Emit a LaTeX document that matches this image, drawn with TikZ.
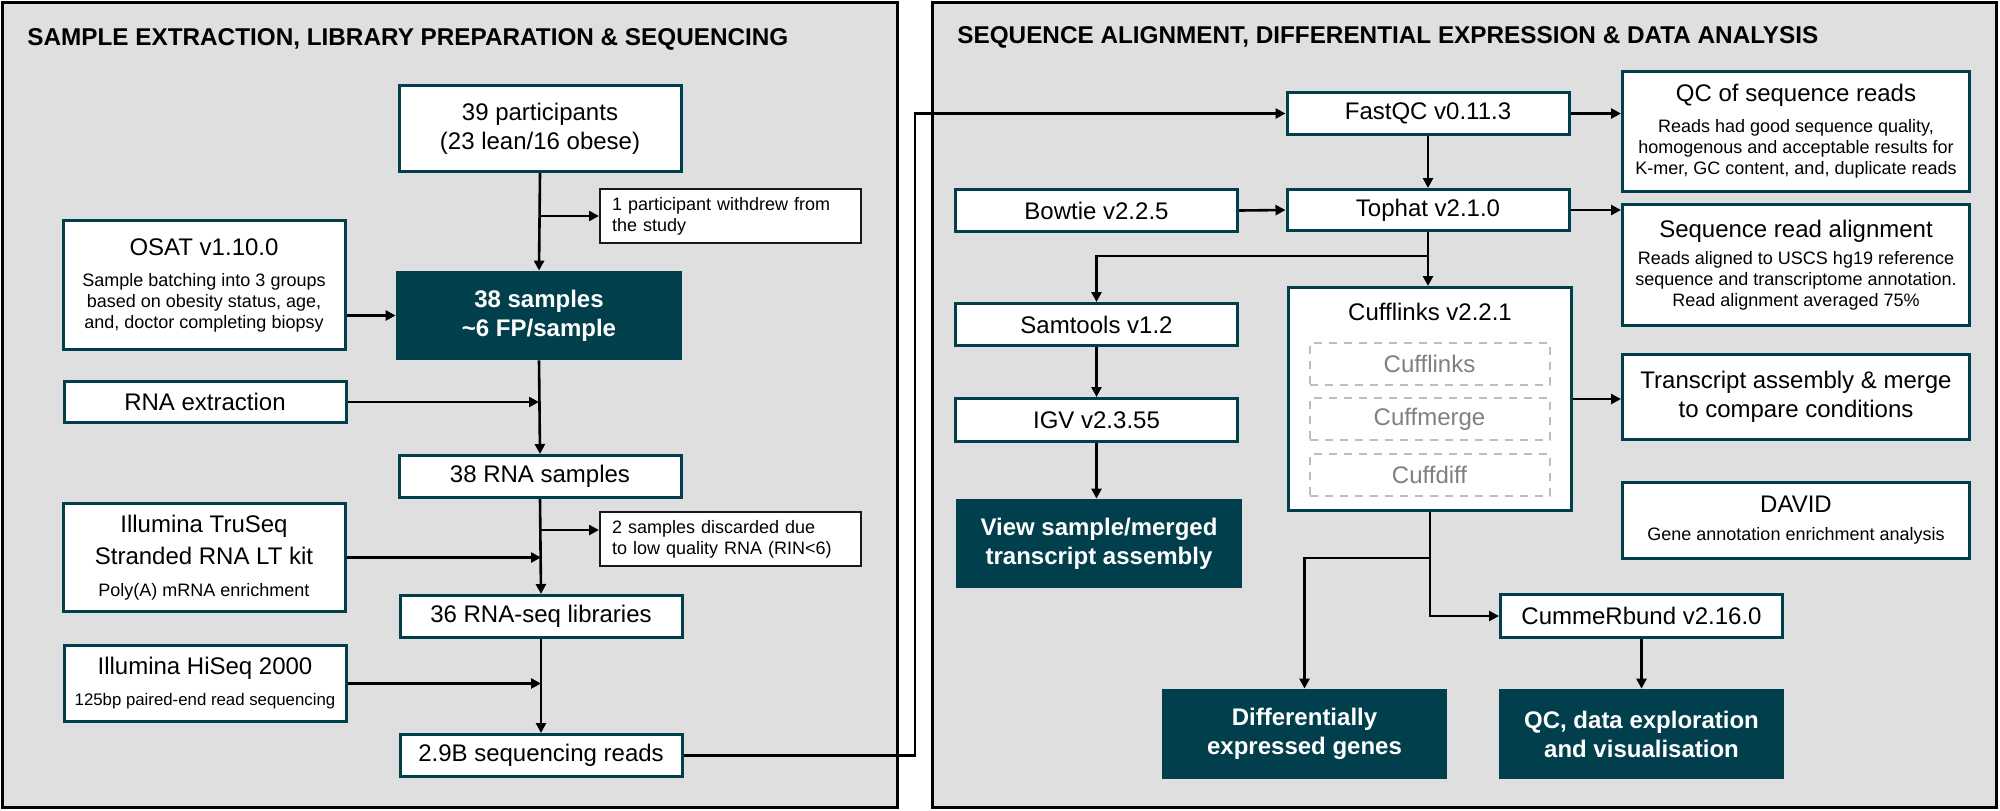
\documentclass[tikz,border=0pt]{standalone}
\usepackage{fontspec}
\setmainfont{Liberation Sans}
\usepackage{tikz}
\usetikzlibrary{arrows.meta}
\definecolor{tealdark}{RGB}{1,63,77}
\definecolor{panelgray}{RGB}{223,223,223}
\definecolor{dashgray}{RGB}{190,190,190}
\definecolor{textgray}{RGB}{128,128,128}
\setlength{\parindent}{0pt}
\newcommand{\bigtxt}{\fontsize{12}{14.5}\selectfont}
\newcommand{\smalltxt}{\fontsize{9}{10.5}\selectfont}
\newcommand{\drawarrow}{\draw[-{Triangle[length=5pt,width=5pt]}, line width=1.3pt]}
\tikzset{
    panel/.style={draw=black, line width=1.5pt, fill=panelgray},
    heading/.style={font=\fontsize{12.15}{14}\selectfont\bfseries, inner sep=0pt, anchor=base west},
    box/.style={draw=tealdark, line width=1.5pt, fill=white, font=\bigtxt, align=center,
        inner sep=2pt, minimum width=141pt, minimum height=21pt},
    infobox/.style={box, font=\smalltxt},
    darkbox/.style={fill=tealdark, text=white, font=\bigtxt\bfseries, align=center,
        minimum width=143pt, minimum height=44.5pt},
    notebox/.style={draw=black!90, line width=1pt, fill=white, font=\smalltxt, align=left,
        text width=118.5pt, inner xsep=6pt, minimum height=27pt},
    toolbox/.style={draw=dashgray, line width=1pt, dash pattern=on 4pt off 3.5pt,
        text=textgray, font=\bigtxt, minimum width=120pt, minimum height=21pt}
}

\begin{document}
\begin{tikzpicture}[x=0.5pt, y=-0.5pt]
    \useasboundingbox (0,0) rectangle (2000,810);

    % Draw panels
    \draw[panel] (2,2) rectangle (897,807);
    \draw[panel] (932,2) rectangle (1996,807);
    \node[heading] (titleleft) at (27,45) {SAMPLE EXTRACTION, LIBRARY PREPARATION \& SEQUENCING};
    \node[heading] (titleright) at (957,43) {SEQUENCE ALIGNMENT, DIFFERENTIAL EXPRESSION \& DATA ANALYSIS};

    % Draw sample boxes
    \node[box, minimum height=43pt] (part) at (540,128.5) {39 participants\\(23 lean/16 obese)};
    \node[notebox] (withdraw) at (730.5,216) {1 participant withdrew from\\the study};
    \node[infobox, minimum height=64.5pt] (osat) at (204,285)
        {\bigtxt OSAT v1.10.0\\[5pt] Sample batching into 3 groups\\based on obesity status, age,\\and, doctor completing biopsy};
    \node[darkbox] (samples) at (539,315.5) {38 samples\\\textasciitilde6 FP/sample};
    \node[box, minimum height=20.5pt] (rnaext) at (205,402) {RNA extraction};
    \node[box] (rnasamp) at (540,476.5) {38 RNA samples};
    \node[notebox] (discard) at (730.5,539) {2 samples discarded due\\to low quality RNA (RIN<6)};
    \node[infobox, minimum height=54pt] (truseq) at (204,557.5)
        {\bigtxt Illumina TruSeq\\[4pt]\bigtxt Stranded RNA LT kit\\[5.5pt] Poly(A) mRNA enrichment};
    \node[box] (libs) at (541,616.5) {36 RNA-seq libraries};
    \node[infobox, minimum height=38pt] (hiseq) at (205,683.5)
        {\bigtxt Illumina HiSeq 2000\\[5pt]\fontsize{8.4}{10}\selectfont 125bp paired-end read sequencing};
    \node[box] (reads) at (541,755.5) {2.9B sequencing reads};

    % Draw analysis boxes
    \node[box] (fastqc) at (1428,113.5) {FastQC v0.11.3};
    \node[infobox, minimum width=173.5pt, minimum height=60pt] (qcreads) at (1796,131.5)
        {\bigtxt QC of sequence reads\\[5pt] Reads had good sequence quality,\\homogenous and acceptable results for\\K-mer, GC content, and, duplicate reads};
    \node[box] (bowtie) at (1096.5,210.5) {Bowtie v2.2.5};
    \node[box, minimum height=20.5pt] (tophat) at (1428,210) {Tophat v2.1.0};
    \node[infobox, minimum width=173.5pt, minimum height=60.5pt] (align) at (1796,265)
        {\bigtxt Sequence read alignment\\[3pt] Reads aligned to USCS hg19 reference\\sequence and transcriptome annotation.\\Read alignment averaged 75\%};
    \node[box] (samtools) at (1096.5,324.5) {Samtools v1.2};
    \node[box, minimum width=141.5pt, minimum height=111.5pt] (cufflinks) at (1430,399) {};
    \node[font=\bigtxt, anchor=base] (cuffhead) at (1430,320) {Cufflinks v2.2.1};
    \node[toolbox] (cl1) at (1429.5,363.5) {Cufflinks};
    \node[toolbox] (cl2) at (1429.5,419) {Cuffmerge};
    \node[toolbox] (cl3) at (1429.5,475) {Cuffdiff};
    \node[box, minimum width=173.5pt, minimum height=42.5pt] (transcript) at (1796,397)
        {Transcript assembly \& merge\\to compare conditions};
    \node[box, minimum height=21.5pt] (igv) at (1096.5,420) {IGV v2.3.55};
    \node[darkbox] (view) at (1099,543.5) {View sample/merged\\transcript assembly};
    \node[infobox, minimum width=173.5pt, minimum height=38pt] (david) at (1796,520.5)
        {\bigtxt DAVID\\[3.5pt] Gene annotation enrichment analysis};
    \node[box, minimum height=21.5pt] (cumme) at (1641.5,616) {CummeRbund v2.16.0};
    \node[darkbox, minimum width=142.5pt, minimum height=45pt] (diff) at (1304.5,734) {Differentially\\expressed genes};
    \node[darkbox, minimum width=142.5pt, minimum height=45pt] (qcdata) at (1641.5,734) {QC, data exploration\\and visualisation};

    % Draw sample flow
    \coordinate (split0) at (541,530);
    \drawarrow (part.south) -- (samples.north);
    \drawarrow (part.south |- withdraw.west) -- (withdraw.west);
    \drawarrow (osat.east |- samples.west) -- (samples.west);
    \drawarrow (samples.south) -- (rnasamp.north);
    \drawarrow (rnaext.east) -- (rnaext.east -| samples.south);
    \drawarrow (rnasamp.south) -- (libs.north);
    \drawarrow (split0) -- (split0 -| discard.west);
    \drawarrow (truseq.east) -- (truseq.east -| libs.north);
    \drawarrow (libs.south) -- (reads.north);
    \drawarrow (hiseq.east) -- (hiseq.east -| reads.north);

    % Draw link between panels
    \coordinate (gap) at (915,0);
    \drawarrow (reads.east) -| (gap |- fastqc.west) -- (fastqc.west);

    % Draw analysis flow
    \coordinate (split1) at (1428,256);
    \coordinate (split2) at (1430,558);
    \drawarrow (fastqc.east) -- (fastqc.east -| qcreads.west);
    \drawarrow (fastqc.south) -- (tophat.north);
    \drawarrow (bowtie.east) -- (tophat.west);
    \drawarrow (tophat.east) -- (tophat.east -| align.west);
    \drawarrow (tophat.south) -- (tophat.south |- cufflinks.north);
    \drawarrow (split1) -| (samtools.north);
    \drawarrow (samtools.south) -- (igv.north);
    \drawarrow (igv.south) -- (igv.south |- view.north);
    \drawarrow (cufflinks.east) -- (cufflinks.east -| transcript.west);
    \drawarrow (cufflinks.south) |- (cumme.west);
    \drawarrow (split2) -| (diff.north);
    \drawarrow (cumme.south) -- (qcdata.north);
\end{tikzpicture}
\end{document}
